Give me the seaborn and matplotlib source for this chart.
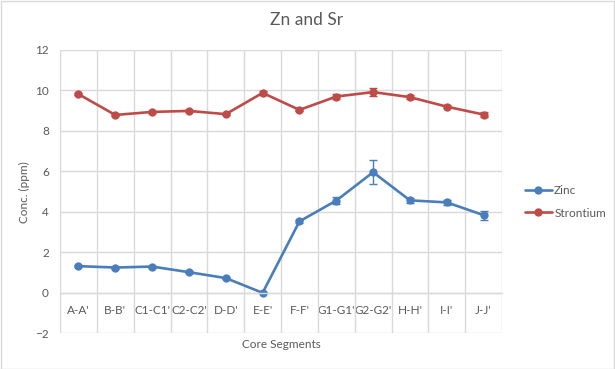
"""
Zn and Sr concentration by core segment.
"""

import numpy as np
import pandas as pd
import matplotlib
matplotlib.use("Agg")
import matplotlib.pyplot as plt
import seaborn as sns

segments = ["A-A'", "B-B'", "C1-C1'", "C2-C2'", "D-D'", "E-E'",
            "F-F'", "G1-G1'", "G2-G2'", "H-H'", "I-I'", "J-J'"]
zinc = [1.32, 1.25, 1.30, 1.02, 0.73, 0.0, 3.53, 4.56, 5.96, 4.57, 4.47, 3.84]
zinc_err = [0.05, 0.05, 0.05, 0.05, 0.05, 0.02, 0.08, 0.19, 0.58, 0.14, 0.13, 0.22]
strontium = [9.82, 8.79, 8.94, 8.99, 8.83, 9.88, 9.04, 9.70, 9.92, 9.67, 9.20, 8.81]
strontium_err = [0.06, 0.05, 0.05, 0.05, 0.05, 0.09, 0.06, 0.12, 0.18, 0.1, 0.07, 0.14]

BLUE = "#4A7EBB"
RED = "#BE4B48"
GRID = "#D9D9D9"
TEXT = "#595959"

sns.set_style("white")
plt.rcParams["font.family"] = ["Lato", "DejaVu Sans"]

df = pd.DataFrame({
    "segment": segments * 2,
    "x": list(range(len(segments))) * 2,
    "conc": zinc + strontium,
    "series": ["Zinc"] * len(segments) + ["Strontium"] * len(segments),
})

fig = plt.figure(figsize=(6.15, 3.69), dpi=100)
ax = fig.add_axes([0.0976, 0.0967, 0.7187, 0.7678])

sns.lineplot(data=df, x="x", y="conc", hue="series",
             palette={"Zinc": BLUE, "Strontium": RED},
             marker="o", markersize=6, markeredgewidth=0,
             linewidth=1.9, ax=ax, legend=False)

x = np.arange(len(segments))
ax.errorbar(x, zinc, yerr=zinc_err, fmt="none", ecolor=BLUE,
            elinewidth=1.0, capsize=3, capthick=1.0)
ax.errorbar(x, strontium, yerr=strontium_err, fmt="none", ecolor=RED,
            elinewidth=1.0, capsize=3, capthick=1.0)

ax.set_xlim(-0.5, 11.5)
ax.set_ylim(-2, 12)
ax.set_yticks(np.arange(-2, 13, 2))
ax.set_xticks(x)
ax.set_xticklabels(segments)
ax.set_xticks(np.arange(-0.5, 12, 1), minor=True)
ax.grid(True, which="minor", axis="x", color=GRID, linewidth=1)
ax.grid(True, which="major", axis="y", color=GRID, linewidth=1)
ax.set_axisbelow(True)

for side in ["top", "right", "left"]:
    ax.spines[side].set_visible(False)
ax.spines["bottom"].set_position(("data", 0))
ax.spines["bottom"].set_color(GRID)
ax.spines["bottom"].set_linewidth(1)
ax.tick_params(axis="both", which="both", length=0, colors=TEXT, labelsize=8.5)
ax.tick_params(axis="x", pad=9)
ax.tick_params(axis="y", pad=8)

ax.set_xlabel("")
ax.set_ylabel("")
fig.text(0.5 * (0.0976 + 0.8163), 1 - 345 / 369, "Core Segments",
         ha="center", va="center", color=TEXT, fontsize=8.5)
fig.text(24 / 615, 1 - 192 / 369, "Conc. (ppm)", rotation=90,
         ha="center", va="center", color=TEXT, fontsize=8.5)
fig.text(307 / 615, 1 - 20 / 369, "Zn and Sr", ha="center", va="center",
         color=TEXT, fontsize=12.5)

handles = [plt.Line2D([], [], color=BLUE, lw=1.9, marker="o", markersize=6,
                      markeredgewidth=0),
           plt.Line2D([], [], color=RED, lw=1.9, marker="o", markersize=6,
                      markeredgewidth=0)]
leg = fig.legend(handles, ["Zinc", "Strontium"], loc="center left",
                 bbox_to_anchor=(514 / 615, 1 - 202 / 369), frameon=False,
                 fontsize=8.5, handlelength=2.3, handletextpad=0.2,
                 labelspacing=0.95, labelcolor=TEXT)

fig.patches.append(plt.Rectangle((0.001, 0.001), 0.997, 0.997,
                                 transform=fig.transFigure, fill=False,
                                 edgecolor=GRID, linewidth=1))

fig.savefig("out.png", dpi=100, facecolor="white")
